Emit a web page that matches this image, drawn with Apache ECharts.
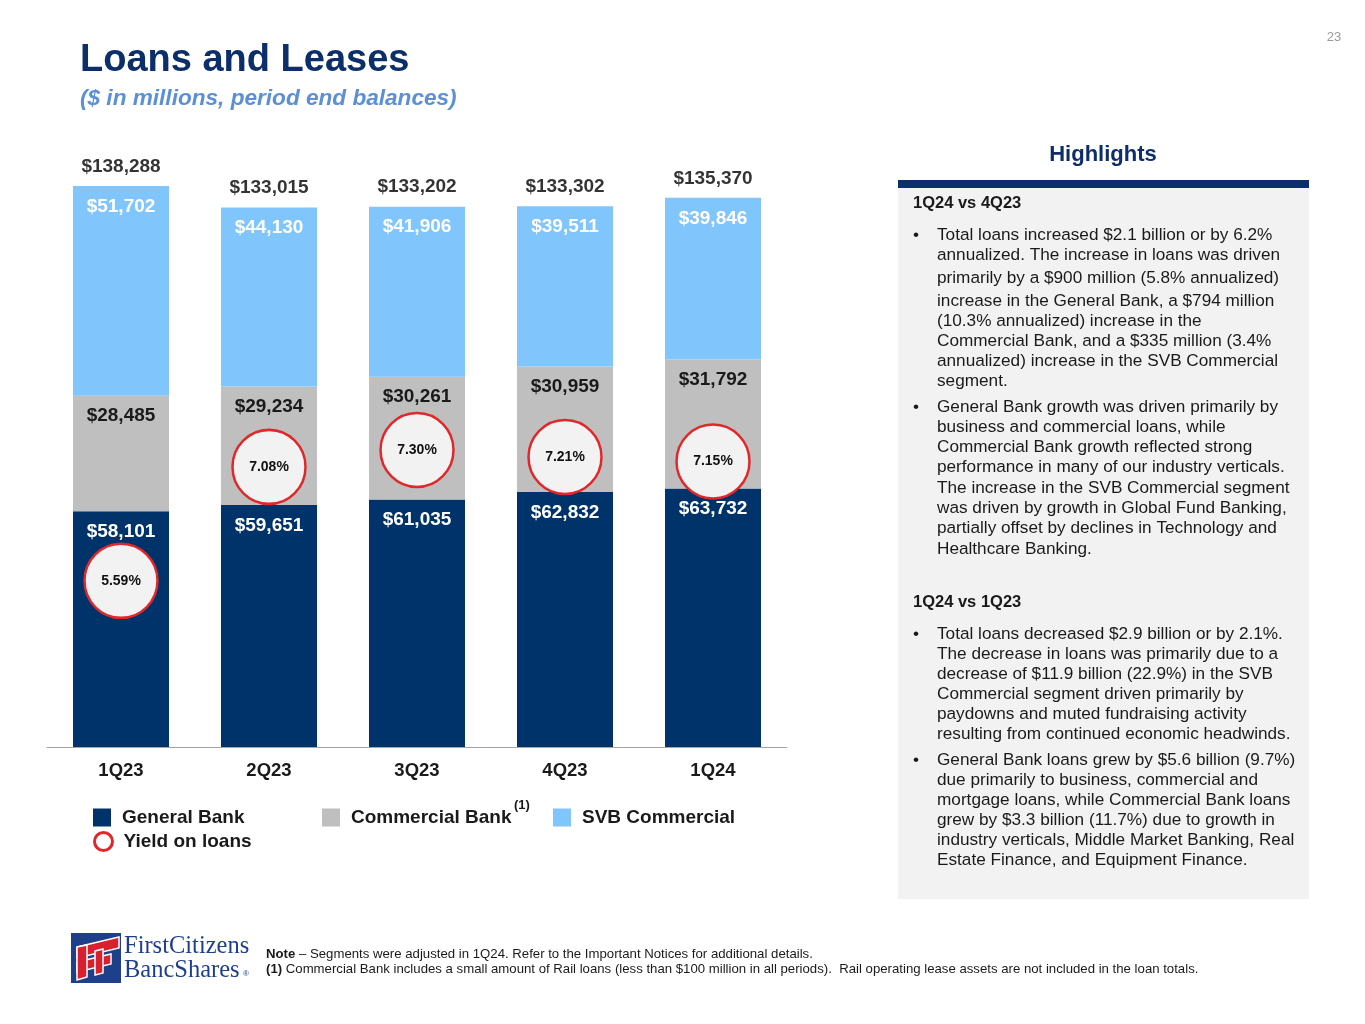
<!DOCTYPE html>
<html>
<head>
<meta charset="utf-8">
<script src="https://cdn.jsdelivr.net/npm/echarts@6/dist/echarts.min.js"></script>
<style>
  html, body { margin: 0; padding: 0; background: #ffffff; }
  #chart { width: 1365px; height: 1024px; }
</style>
</head>
<body>
<div id="chart"></div>
<script>
// ---- Data ----
const categories = ['1Q23', '2Q23', '3Q23', '4Q23', '1Q24'];
const generalBank = [58101, 59651, 61035, 62832, 63732];
const commercialBank = [28485, 29234, 30261, 30959, 31792];
const svbCommercial = [51702, 44130, 41906, 39511, 39846];
const totals = [138288, 133015, 133202, 133302, 135370];
const yieldOnLoans = [5.59, 7.08, 7.30, 7.21, 7.15];

const seriesNames = ['General Bank', 'Commercial Bank', 'SVB Commercial', 'Yield on loans'];

const highlightsA = [
  'Total loans increased $2.1 billion or by 6.2%',
  'annualized. The increase in loans was driven',
  'primarily by a $900 million (5.8% annualized)',
  'increase in the General Bank, a $794 million',
  '(10.3% annualized) increase in the',
  'Commercial Bank, and a $335 million (3.4%',
  'annualized) increase in the SVB Commercial',
  'segment.'
];
const highlightsB = [
  'General Bank growth was driven primarily by',
  'business and commercial loans, while',
  'Commercial Bank growth reflected strong',
  'performance in many of our industry verticals.',
  'The increase in the SVB Commercial segment',
  'was driven by growth in Global Fund Banking,',
  'partially offset by declines in Technology and',
  'Healthcare Banking.'
];
const highlightsC = [
  'Total loans decreased $2.9 billion or by 2.1%.',
  'The decrease in loans was primarily due to a',
  'decrease of $11.9 billion (22.9%) in the SVB',
  'Commercial segment driven primarily by',
  'paydowns and muted fundraising activity',
  'resulting from continued economic headwinds.'
];
const highlightsD = [
  'General Bank loans grew by $5.6 billion (9.7%)',
  'due primarily to business, commercial and',
  'mortgage loans, while Commercial Bank loans',
  'grew by $3.3 billion (11.7%) due to growth in',
  'industry verticals, Middle Market Banking, Real',
  'Estate Finance, and Equipment Finance.'
];

// ---- Styling ----
const FONT = "'Liberation Sans', Arial, Helvetica, sans-serif";
const NAVY = '#003369';
const GRAY = '#bfbfbf';
const LIGHT = '#80c5fc';
const RED = '#e0282a';
const fmt = v => '$' + Number(v).toLocaleString('en-US');

const chart = echarts.init(document.getElementById('chart'), null, { renderer: 'canvas' });

// graphic texts
const graphics = [];
function txt(text, x, y, font, fill, align) {
  graphics.push({
    type: 'text', silent: true,
    style: { text: text, x: x, y: y, font: font, fill: fill || '#1a1a1a',
             textAlign: align || 'left', textVerticalAlign: 'middle' }
  });
}
// Title
txt('Loans and Leases', 80, 61, 'bold 38px ' + FONT, '#0c2e6b');
txt('($ in millions, period end balances)', 80, 99, 'italic bold 22.6px ' + FONT, '#5b8fd6');
txt('23', 1334, 37, '13px ' + FONT, '#9a9a9a', 'center');

// Highlights panel
graphics.push({ type: 'rect', silent: true, shape: { x: 898, y: 187, width: 411, height: 712 }, style: { fill: '#f2f2f2' } });
graphics.push({ type: 'rect', silent: true, shape: { x: 898, y: 180, width: 411, height: 8 }, style: { fill: '#0c2e6b' } });
txt('Highlights', 1103, 155, 'bold 22px ' + FONT, '#0c2e6b', 'center');
txt('1Q24 vs 4Q23', 913, 203, 'bold 16.5px ' + FONT, '#1a1a1a');
txt('1Q24 vs 1Q23', 913, 602, 'bold 16.5px ' + FONT, '#1a1a1a');
const BODY = '17.2px ' + FONT;
function para(lines, ys) {
  txt('\u2022', 913, ys[0], BODY, '#1a1a1a');
  lines.forEach((l, i) => txt(l, 937, ys[i], BODY, '#1a1a1a'));
}
para(highlightsA, [235, 255, 278, 301, 321, 341, 361, 381]);
para(highlightsB, [407, 427, 447, 467, 488, 508, 528, 549]);
para(highlightsC, [634, 654, 674, 694, 714, 734]);
para(highlightsD, [760, 780, 800, 820, 840, 860]);

// Legend superscript
txt('(1)', 514, 805, 'bold 13px ' + FONT, '#1a1a1a');

// Notes
graphics.push({
  type: 'text', silent: true,
  style: {
    x: 266, y: 954, textVerticalAlign: 'middle',
    text: '{b|Note} \u2013 Segments were adjusted in 1Q24. Refer to the Important Notices for additional details.',
    font: '13.2px ' + FONT, fill: '#1a1a1a',
    rich: { b: { font: 'bold 13.2px ' + FONT, fill: '#1a1a1a' } }
  }
});
graphics.push({
  type: 'text', silent: true,
  style: {
    x: 266, y: 969, textVerticalAlign: 'middle',
    text: '{b|(1)} Commercial Bank includes a small amount of Rail loans (less than $100 million in all periods).  Rail operating lease assets are not included in the loan totals.',
    font: '13.2px ' + FONT, fill: '#1a1a1a',
    rich: { b: { font: 'bold 13.2px ' + FONT, fill: '#1a1a1a' } }
  }
});

// Logo
graphics.push({
  type: 'group', silent: true, x: 71, y: 933,
  children: [
    { type: 'rect', shape: { x: 0, y: 0, width: 50, height: 50 }, style: { fill: '#1e3f8a' } },
    { type: 'polygon', shape: { points: [[6, 14], [48, 4], [48, 15], [6, 25]] }, style: { fill: '#d8202f', stroke: '#ffffff', lineWidth: 1.5 } },
    { type: 'polygon', shape: { points: [[6, 29], [40, 21], [40, 31], [6, 39]] }, style: { fill: '#d8202f', stroke: '#ffffff', lineWidth: 1.5 } },
    { type: 'polygon', shape: { points: [[6, 14], [16, 12], [16, 44], [6, 47]] }, style: { fill: '#d8202f', stroke: '#ffffff', lineWidth: 1.5 } },
    { type: 'polygon', shape: { points: [[24, 18], [32, 16], [32, 40], [24, 42]] }, style: { fill: '#d8202f', stroke: '#ffffff', lineWidth: 1.5 } }
  ]
});
txt('FirstCitizens', 124, 947, '24.5px "Liberation Serif", "DejaVu Serif", serif', '#1e3f8a');
txt('BancShares', 124, 971, '24.5px "Liberation Serif", "DejaVu Serif", serif', '#1e3f8a');
txt('\u00ae', 243, 974, '8px ' + FONT, '#1e3f8a');

const barLabel = (color) => ({
  show: true, position: 'insideTop', distance: 11,
  color: color, fontSize: 19, fontWeight: 'bold', fontFamily: FONT,
  formatter: p => fmt(p.value)
});

const legendBase = {
  orient: 'horizontal', padding: 0, itemWidth: 18, itemHeight: 18, itemGap: 0,
  selectedMode: false,
  textStyle: { fontSize: 19, fontWeight: 'bold', color: '#1a1a1a', fontFamily: FONT, padding: [0, 0, 0, 6] }
};

const option = {
  backgroundColor: '#ffffff',
  animation: false,
  graphic: { elements: graphics },
  legend: [
    Object.assign({}, legendBase, { left: 93, top: 808, data: [{ name: seriesNames[0], icon: 'rect' }] }),
    Object.assign({}, legendBase, { left: 322, top: 808, data: [{ name: seriesNames[1], icon: 'rect' }] }),
    Object.assign({}, legendBase, { left: 553, top: 808, data: [{ name: seriesNames[2], icon: 'rect' }] }),
    Object.assign({}, legendBase, { left: 93, top: 831, data: [{ name: seriesNames[3], icon: 'circle',
      itemStyle: { color: '#ffffff', borderColor: RED, borderWidth: 3, opacity: 1 } }] })
  ],
  grid: [
    { left: 47, right: 578, top: 138.5, bottom: 277 },
    { left: 47, right: 578, top: 167, bottom: 321.5 }
  ],
  xAxis: [
    {
      type: 'category', gridIndex: 0, data: categories,
      axisLine: { show: true, lineStyle: { color: '#a6a6a6', width: 1 } },
      axisTick: { show: false },
      axisLabel: { margin: 14, fontSize: 18.5, fontWeight: 'bold', color: '#1a1a1a', fontFamily: FONT }
    },
    {
      type: 'category', gridIndex: 1, data: categories, show: false
    }
  ],
  yAxis: [
    { type: 'value', gridIndex: 0, min: 0, max: 150000, show: false, splitLine: { show: false } },
    { type: 'value', gridIndex: 1, min: 4, max: 11, show: false, splitLine: { show: false } }
  ],
  series: [
    {
      name: seriesNames[0], type: 'bar', stack: 'loans', barWidth: 96,
      xAxisIndex: 0, yAxisIndex: 0, data: generalBank,
      itemStyle: { color: NAVY }, label: barLabel('#ffffff')
    },
    {
      name: seriesNames[1], type: 'bar', stack: 'loans', barWidth: 96,
      xAxisIndex: 0, yAxisIndex: 0, data: commercialBank,
      itemStyle: { color: GRAY }, label: barLabel('#1a1a1a')
    },
    {
      name: seriesNames[2], type: 'bar', stack: 'loans', barWidth: 96,
      xAxisIndex: 0, yAxisIndex: 0, data: svbCommercial,
      itemStyle: { color: LIGHT }, label: barLabel('#ffffff')
    },
    {
      name: 'Total', type: 'scatter', xAxisIndex: 0, yAxisIndex: 0,
      data: totals, symbolSize: 0, silent: true,
      label: { show: true, position: 'top', distance: 10, fontSize: 19, fontWeight: 'bold',
               color: '#000000', fontFamily: FONT, formatter: p => fmt(p.value) }
    },
    {
      name: seriesNames[3], type: 'scatter', xAxisIndex: 1, yAxisIndex: 1, z: 5,
      data: yieldOnLoans, symbol: 'circle', symbolSize: [73, 74],
      itemStyle: { color: '#f2f2f2', borderColor: RED, borderWidth: 2.5, opacity: 1 },
      label: { show: true, position: 'inside', fontSize: 14, fontWeight: 'bold', color: '#111111',
               fontFamily: FONT, formatter: p => p.value.toFixed(2) + '%' }
    }
  ]
};
chart.setOption(option);
</script>
</body>
</html>
